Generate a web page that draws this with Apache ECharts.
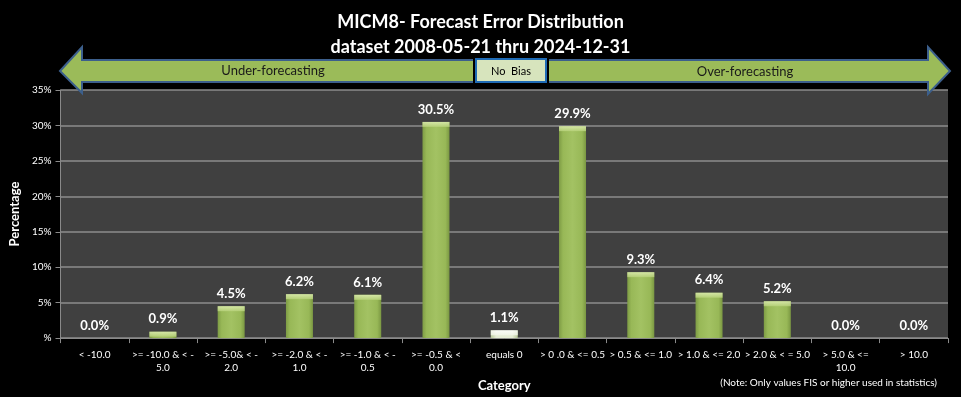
<!DOCTYPE html>
<html lang="en">
<head>
    <meta charset="UTF-8">
    <title>MICM8 Forecast Error Distribution</title>
    <script src="https://cdn.jsdelivr.net/npm/echarts@6/dist/echarts.min.js"></script>
    <style>
        html, body { margin: 0; padding: 0; background: #000; }
        #main { width: 961px; height: 397px; }
    </style>
</head>
<body>
<div id="main"></div>
<script type="text/javascript">
    // categories along the bottom
    var categories = [
        '< -10.0',
        '>= -10.0 & < -\n5.0',
        '>= -5.0& < -\n2.0',
        '>= -2.0 & < -\n1.0',
        '>= -1.0 & < -\n0.5',
        '>= -0.5 & <\n0.0',
        'equals 0',
        '> 0 .0 & <= 0.5',
        '> 0.5 & <= 1.0',
        '> 1.0 & <= 2.0',
        '> 2.0 & < = 5.0',
        '> 5.0 & <=\n10.0',
        '> 10.0'
    ];
    // percentage of forecasts in each bucket
    var percents = [0.0, 0.9, 4.5, 6.2, 6.1, 30.5, 1.1, 29.9, 9.3, 6.4, 5.2, 0.0, 0.0];
    var yTicks = [0, 5, 10, 15, 20, 25, 30, 35];

    var font = 'Lato, "Liberation Sans", sans-serif';
    var G = echarts.graphic;

    var greenBody = new G.LinearGradient(0, 0, 1, 0, [
        {offset: 0, color: '#7e9c45'},
        {offset: 0.15, color: '#98b857'},
        {offset: 0.5, color: '#a3c263'},
        {offset: 0.85, color: '#98b857'},
        {offset: 1, color: '#7a9742'}
    ]);
    var paleBody = new G.LinearGradient(0, 0, 1, 0, [
        {offset: 0, color: '#b9c99a'},
        {offset: 0.2, color: '#e6eed6'},
        {offset: 0.8, color: '#e6eed6'},
        {offset: 1, color: '#b5c596'}
    ]);
    var greenTop = new G.LinearGradient(0, 0, 0, 1, [
        {offset: 0, color: '#e2f0b8'},
        {offset: 1, color: '#b9d37c'}
    ]);
    var paleTop = new G.LinearGradient(0, 0, 0, 1, [
        {offset: 0, color: '#ffffff'},
        {offset: 1, color: '#f2f6ea'}
    ]);

    var barData = percents.map(function (v, i) {
        var pale = categories[i] === 'equals 0';
        return {value: v, itemStyle: {color: pale ? paleBody : greenBody}};
    });
    var capData = percents.map(function (v, i) {
        var pale = categories[i] === 'equals 0';
        return {value: v, itemStyle: {color: pale ? paleTop : greenTop}};
    });

    var myChart = echarts.init(document.getElementById('main'));
    var option = {
        backgroundColor: '#000000',
        animation: false,
        title: {
            text: 'MICM8- Forecast Error Distribution\ndataset 2008-05-21 thru 2024-12-31',
            left: 'center',
            top: 5,
            textStyle: {color: '#ffffff', fontSize: 18, fontWeight: 'bold', fontFamily: font, lineHeight: 25}
        },
        grid: {
            left: 60, right: 13, top: 90, bottom: 57,
            show: true, backgroundColor: '#404040', borderWidth: 0
        },
        xAxis: {
            type: 'category',
            data: categories,
            name: 'Category',
            nameLocation: 'middle',
            nameGap: 40,
            nameTextStyle: {color: '#ffffff', fontSize: 13, fontWeight: 'bold', fontFamily: font},
            axisLine: {lineStyle: {color: '#8a8a8a', width: 1}},
            axisTick: {show: true, length: 5, lineStyle: {color: '#8a8a8a'}},
            axisLabel: {
                interval: 0, color: '#ffffff', fontSize: 10, fontFamily: font,
                lineHeight: 13, margin: 10
            }
        },
        yAxis: {
            type: 'value',
            min: yTicks[0],
            max: yTicks[yTicks.length - 1],
            interval: 5,
            name: 'Percentage',
            nameLocation: 'middle',
            nameGap: 38,
            nameTextStyle: {color: '#ffffff', fontSize: 13, fontWeight: 'bold', fontFamily: font},
            axisLine: {show: true, lineStyle: {color: '#8a8a8a'}},
            axisTick: {show: true, length: 5, lineStyle: {color: '#8a8a8a'}},
            axisLabel: {
                color: '#ffffff', fontSize: 10, fontFamily: font, margin: 9,
                formatter: function (v) { return v === 0 ? '%' : v + '%'; }
            },
            splitLine: {lineStyle: {color: '#8c8c8c', width: 1.5}}
        },
        series: [
            {
                type: 'bar',
                data: barData,
                barWidth: 27,
                label: {
                    show: true, position: 'top', distance: 6,
                    color: '#ffffff', fontSize: 13, fontWeight: 'bold', fontFamily: font,
                    formatter: function (p) { return p.value.toFixed(1) + '%'; }
                },
                z: 2
            },
            {
                // bevelled top of each bar
                type: 'scatter',
                data: capData,
                symbol: 'rect',
                symbolSize: function (v) { return v > 0 ? [27, 5] : 0; },
                symbolOffset: [0, 2.5],
                silent: true,
                z: 3
            }
        ],
        graphic: [
            {
                type: 'polygon',
                shape: {points: [[60, 71], [82, 47], [82, 60], [928, 60], [928, 47], [950, 71], [928, 94], [928, 82], [82, 82], [82, 93]]},
                style: {fill: '#9bbb59', stroke: '#3c5f8c', lineWidth: 2},
                z: 10
            },
            {
                type: 'rect',
                shape: {x: 473, y: 57, width: 76, height: 27},
                style: {fill: '#000000'},
                z: 11
            },
            {
                type: 'rect',
                shape: {x: 476, y: 59, width: 70, height: 23},
                style: {fill: '#d7e4bd', stroke: '#1f6bb5', lineWidth: 2},
                z: 12
            },
            {
                type: 'text',
                x: 511, y: 71,
                style: {text: 'No  Bias', fill: '#000000', font: '11px ' + font, align: 'center', verticalAlign: 'middle'},
                z: 13
            },
            {
                type: 'text',
                x: 273, y: 71,
                style: {text: 'Under-forecasting', fill: '#1a1a1a', font: '13px ' + font, align: 'center', verticalAlign: 'middle'},
                z: 13
            },
            {
                type: 'text',
                x: 745, y: 72,
                style: {text: 'Over-forecasting', fill: '#1a1a1a', font: '13px ' + font, align: 'center', verticalAlign: 'middle'},
                z: 13
            },
            {
                type: 'text',
                x: 937, y: 383,
                style: {text: '(Note: Only values FIS or higher used in statistics)', fill: '#ffffff', font: '10px ' + font, align: 'right', verticalAlign: 'middle'},
                z: 13
            }
        ]
    };
    myChart.setOption(option);
</script>
</body>
</html>
